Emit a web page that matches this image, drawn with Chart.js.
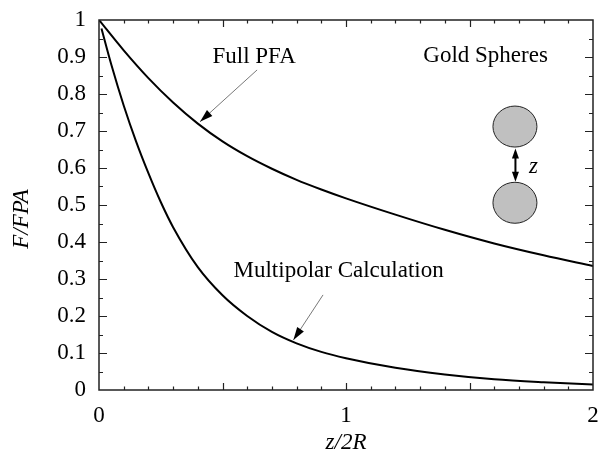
<!DOCTYPE html>
<html>
<head>
<meta charset="utf-8">
<title>F/FPA vs z/2R</title>
<script src="https://cdn.jsdelivr.net/npm/chart.js@4/dist/chart.umd.min.js"></script>
<style>
  html, body { margin: 0; padding: 0; background: #fff; }
  #wrap { width: 605px; height: 464px; }
</style>
</head>
<body>
<div id="wrap"><canvas id="chart"></canvas></div>
<script>
// ========== DATA ==========
// separation z/2R and normalised force for the two calculations
const pfaZ = [0, 0.1, 0.2, 0.3, 0.4, 0.5, 0.6, 0.7, 0.8, 0.9, 1.0, 1.2, 1.4, 1.6, 1.8, 2.0];
const pfaForce = [1, 0.918, 0.843, 0.777, 0.72, 0.672, 0.632, 0.598, 0.568, 0.542, 0.518, 0.474, 0.433, 0.396, 0.364, 0.335];

const multipolarZ = [0.01, 0.05, 0.1, 0.15, 0.2, 0.25, 0.3, 0.4, 0.5, 0.6, 0.7, 0.8, 0.9, 1.0, 1.2, 1.4, 1.6, 1.8, 2.0];
const multipolarForce = [0.977, 0.879, 0.769, 0.672, 0.586, 0.508, 0.44, 0.332, 0.256, 0.2, 0.157, 0.126, 0.103, 0.086, 0.06, 0.042, 0.029, 0.021, 0.015];

const xTickLabels = ['0', '1', '2'];
const yTickLabels = ['0', '0.1', '0.2', '0.3', '0.4', '0.5', '0.6', '0.7', '0.8', '0.9', '1'];

// ========== STYLE ==========
const SERIF = '"Liberation Serif", "Times New Roman", serif';
const FONT_SIZE = 23;

// labels and arrows, placed in data units
const labels = [
  { text: 'Full PFA', x: 0.628, y: 0.884 },
  { text: 'Gold Spheres', x: 1.565, y: 0.886 },
  { text: 'Multipolar Calculation', x: 0.970, y: 0.305 }
];
const pointers = [
  { from: [0.640, 0.865], to: [0.409, 0.725] },
  { from: [0.907, 0.257], to: [0.787, 0.135] }
];
const spheres = { x: 1.684, top: 0.712, bottom: 0.506, rx: 22, ry: 20.5 };
const gapArrow = { x: 1.686, y1: 0.653, y2: 0.563 };

function toPoints(xs, ys) {
  return xs.map((v, i) => ({ x: v, y: ys[i] }));
}

function arrowHead(ctx, x1, y1, x2, y2, len, half) {
  const ang = Math.atan2(y2 - y1, x2 - x1);
  ctx.beginPath();
  ctx.moveTo(x2, y2);
  ctx.lineTo(x2 - len * Math.cos(ang) + half * Math.sin(ang), y2 - len * Math.sin(ang) - half * Math.cos(ang));
  ctx.lineTo(x2 - len * Math.cos(ang) - half * Math.sin(ang), y2 - len * Math.sin(ang) + half * Math.cos(ang));
  ctx.closePath();
  ctx.fill();
}

// frame, inward ticks on all four sides, labels and the sphere sketch
const figureMarks = {
  id: 'figureMarks',
  afterDraw(chart) {
    const { ctx, chartArea: a, scales: { x, y } } = chart;
    const px = v => x.getPixelForValue(v);
    const py = v => y.getPixelForValue(v);
    ctx.save();

    ctx.strokeStyle = '#222';
    ctx.lineWidth = 1.5;
    ctx.strokeRect(a.left, a.top, a.right - a.left, a.bottom - a.top);

    ctx.lineWidth = 1.2;
    ctx.beginPath();
    for (let i = 1; i < 20; i++) {
      const xp = Math.round(px(i / 10)) + 0.5;
      const len = i % 5 === 0 ? 7 : 3.5;
      ctx.moveTo(xp, a.bottom); ctx.lineTo(xp, a.bottom - len);
      ctx.moveTo(xp, a.top); ctx.lineTo(xp, a.top + len);
    }
    for (let i = 1; i < 20; i++) {
      const yp = Math.round(py(i / 20)) + 0.5;
      const len = i % 2 === 0 ? 8 : 4;
      ctx.moveTo(a.left, yp); ctx.lineTo(a.left + len, yp);
      ctx.moveTo(a.right, yp); ctx.lineTo(a.right - len, yp);
    }
    ctx.stroke();

    ctx.fillStyle = '#000';
    ctx.font = FONT_SIZE + 'px ' + SERIF;
    ctx.textAlign = 'center';
    ctx.textBaseline = 'alphabetic';
    labels.forEach(l => ctx.fillText(l.text, px(l.x), py(l.y)));

    ctx.strokeStyle = '#555';
    ctx.lineWidth = 0.8;
    pointers.forEach(p => {
      const x1 = px(p.from[0]), y1 = py(p.from[1]);
      const x2 = px(p.to[0]), y2 = py(p.to[1]);
      ctx.beginPath();
      ctx.moveTo(x1, y1);
      ctx.lineTo(x2, y2);
      ctx.stroke();
      arrowHead(ctx, x1, y1, x2, y2, 13, 4);
    });

    ctx.fillStyle = '#c0c0c0';
    ctx.strokeStyle = '#222';
    ctx.lineWidth = 1;
    [spheres.top, spheres.bottom].forEach(v => {
      ctx.beginPath();
      ctx.ellipse(px(spheres.x), py(v), spheres.rx, spheres.ry, 0, 0, Math.PI * 2);
      ctx.fill();
      ctx.stroke();
    });

    const gx = px(gapArrow.x), g1 = py(gapArrow.y1), g2 = py(gapArrow.y2);
    ctx.strokeStyle = '#000';
    ctx.fillStyle = '#000';
    ctx.lineWidth = 2;
    ctx.beginPath();
    ctx.moveTo(gx, g1 + 6);
    ctx.lineTo(gx, g2 - 6);
    ctx.stroke();
    arrowHead(ctx, gx, g2, gx, g1, 10, 3.5);
    arrowHead(ctx, gx, g1, gx, g2, 10, 3.5);

    ctx.font = 'italic ' + FONT_SIZE + 'px ' + SERIF;
    ctx.textBaseline = 'middle';
    ctx.fillText('z', gx + 18, py(0.603));

    // axis titles
    ctx.fillText('z/2R', (a.left + a.right) / 2, 443);
    ctx.translate(22, 219);
    ctx.rotate(-Math.PI / 2);
    ctx.fillText('F/FPA', 0, 0);

    ctx.restore();
  }
};

new Chart(document.getElementById('chart'), {
  type: 'line',
  data: {
    datasets: [
      {
        label: 'Full PFA',
        data: toPoints(pfaZ, pfaForce),
        borderColor: '#000',
        borderWidth: 2,
        pointRadius: 0,
        cubicInterpolationMode: 'monotone',
        fill: false
      },
      {
        label: 'Multipolar Calculation',
        data: toPoints(multipolarZ, multipolarForce),
        borderColor: '#000',
        borderWidth: 2,
        pointRadius: 0,
        cubicInterpolationMode: 'monotone',
        fill: false
      }
    ]
  },
  options: {
    responsive: true,
    maintainAspectRatio: false,
    animation: false,
    layout: { padding: { left: 0, top: 20, right: 12, bottom: 0 } },
    plugins: { legend: { display: false }, tooltip: { enabled: false } },
    scales: {
      x: {
        type: 'linear',
        min: 0,
        max: 2,
        afterFit: s => { s.height = 74; s.paddingLeft = 0; s.paddingRight = 0; },
        afterBuildTicks: s => { s.ticks = xTickLabels.map(t => ({ value: Number(t) })); },
        grid: { display: false, drawTicks: false },
        border: { display: false },
        ticks: {
          padding: 12,
          color: '#000',
          font: { family: SERIF, size: FONT_SIZE },
          callback: v => xTickLabels.find(t => Number(t) === v)
        }
      },
      y: {
        type: 'linear',
        min: 0,
        max: 1,
        afterFit: s => { s.width = 99; s.paddingTop = 0; s.paddingBottom = 0; },
        afterBuildTicks: s => { s.ticks = yTickLabels.map(t => ({ value: Number(t) })); },
        grid: { display: false, drawTicks: false },
        border: { display: false },
        ticks: {
          padding: 13,
          color: '#000',
          font: { family: SERIF, size: FONT_SIZE },
          callback: v => yTickLabels.find(t => Number(t) === v)
        }
      }
    }
  },
  plugins: [figureMarks]
});
</script>
</body>
</html>
